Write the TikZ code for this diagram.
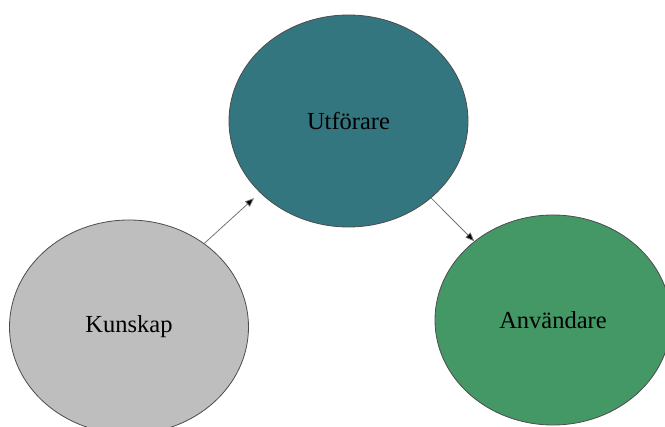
\documentclass[tikz,border=0pt]{standalone}
\usepackage{fontspec}
\setmainfont{Liberation Serif}
\usetikzlibrary{shapes.geometric,arrows.meta}
\definecolor{kgray}{RGB}{190,190,190}
\definecolor{uteal}{RGB}{52,118,128}
\definecolor{agreen}{RGB}{68,152,101}
\begin{document}
\begin{tikzpicture}[x=1pt,y=-1pt,
  blob/.style={ellipse,draw=black!70,line width=0.8pt,inner sep=0pt,
    font=\fontsize{24.5}{28}\selectfont},
  conn/.style={draw=black!55,line width=0.8pt,
    -{Triangle[length=9pt,width=7pt,fill=black]}}]
\useasboundingbox (0,0) rectangle (665,427);
\node[blob,fill=kgray,minimum width=239pt,minimum height=214pt] (k) at (129,327) {Kunskap};
\node[blob,fill=uteal,minimum width=239pt,minimum height=212pt] (u) at (348.5,121) {Utförare};
\node[blob,fill=agreen,minimum width=236pt,minimum height=210pt] (a) at (553,320) {Användare};
\draw[conn,shorten >=8pt] (k.48) -- (u.219);
\draw[conn] (u.-43) -- (a.135);
\end{tikzpicture}
\end{document}
